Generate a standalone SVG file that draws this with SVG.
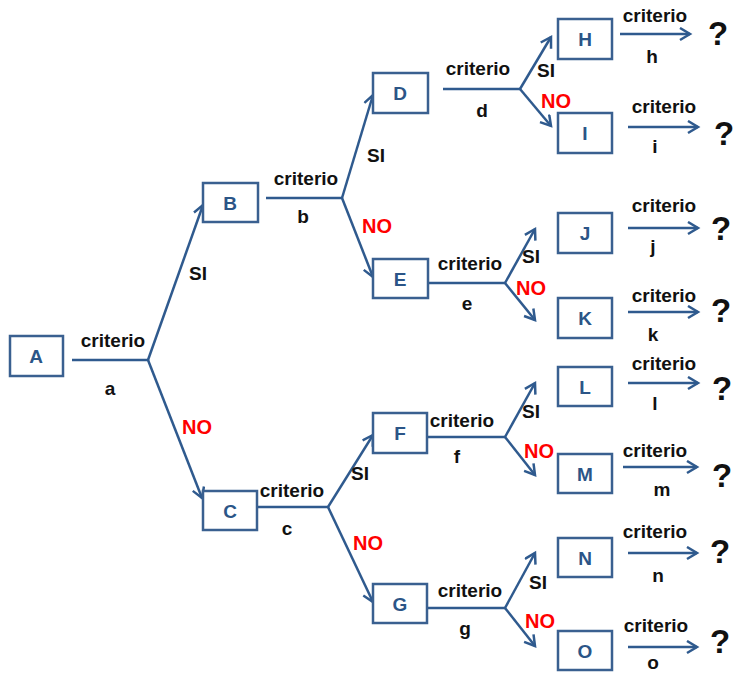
<svg xmlns="http://www.w3.org/2000/svg" width="733" height="674" viewBox="0 0 733 674">
  <style>
    .box rect { fill: #ffffff; stroke: #3A6090; stroke-width: 2.5; }
    .box text { font-family: "Liberation Sans", Arial, sans-serif; font-weight: bold; font-size: 19px; fill: #2B5587; text-anchor: middle; }
    .edge { fill: none; stroke: #2F5A8E; stroke-width: 2.5; }
    .arr { marker-end: url(#head); }
    .lbl { font-family: "Liberation Sans", Arial, sans-serif; font-weight: bold; font-size: 19px; fill: #111111; text-anchor: middle; }
    .no { fill: #FF0000; font-size: 20px; }
    .q { font-size: 33px; }
  </style>
  <defs>
    <marker id="head" markerUnits="userSpaceOnUse" markerWidth="14" markerHeight="16" refX="11" refY="7" orient="auto">
      <path d="M1,1 L11,7 L1,13" fill="none" stroke="#2F5A8E" stroke-width="2.5" stroke-linejoin="miter"/>
    </marker>
  </defs>
  <rect width="733" height="674" fill="#ffffff"/>

  <!-- connectors -->
  <g id="connectors">
    <path class="edge" d="M72,360 H148"/>
    <path class="edge arr" d="M148,360 L203,205"/>
    <path class="edge arr" d="M148,360 L202,498"/>

    <path class="edge" d="M266,198 H342"/>
    <path class="edge arr" d="M342,198 L373,95"/>
    <path class="edge arr" d="M342,198 L373,277"/>

    <path class="edge" d="M257,507 H328"/>
    <path class="edge arr" d="M328,507 L373,435"/>
    <path class="edge arr" d="M328,507 L373,602"/>

    <path class="edge" d="M443,89 H520"/>
    <path class="edge arr" d="M520,89 L551,37"/>
    <path class="edge arr" d="M520,89 L551,126"/>

    <path class="edge" d="M428,283 H505"/>
    <path class="edge arr" d="M505,283 L535,229"/>
    <path class="edge arr" d="M505,283 L535,320"/>

    <path class="edge" d="M427,437 H505"/>
    <path class="edge arr" d="M505,437 L535,383"/>
    <path class="edge arr" d="M505,437 L535,475"/>

    <path class="edge" d="M427,608 H505"/>
    <path class="edge arr" d="M505,608 L535,553"/>
    <path class="edge arr" d="M505,608 L535,646"/>

    <path class="edge arr" d="M620,34 H690"/>
    <path class="edge arr" d="M628,127 H698"/>
    <path class="edge arr" d="M628,228 H698"/>
    <path class="edge arr" d="M628,312 H698"/>
    <path class="edge arr" d="M628,383 H698"/>
    <path class="edge arr" d="M623,467 H697"/>
    <path class="edge arr" d="M628,553 H697"/>
    <path class="edge arr" d="M628,647 H697"/>
  </g>

  <!-- nodes -->
  <g id="node-A" class="box"><rect x="10" y="336" width="53" height="40"/><text x="36" y="363">A</text></g>
  <g id="node-B" class="box"><rect x="203" y="183" width="55" height="39"/><text x="230" y="210">B</text></g>
  <g id="node-C" class="box"><rect x="203" y="491" width="54" height="39"/><text x="230" y="518">C</text></g>
  <g id="node-D" class="box"><rect x="373" y="73" width="55" height="40"/><text x="400" y="100">D</text></g>
  <g id="node-E" class="box"><rect x="373" y="259" width="55" height="39"/><text x="400" y="286">E</text></g>
  <g id="node-F" class="box"><rect x="373" y="413" width="54" height="40"/><text x="400" y="440">F</text></g>
  <g id="node-G" class="box"><rect x="373" y="584" width="54" height="39"/><text x="400" y="611">G</text></g>
  <g id="node-H" class="box"><rect x="558" y="19" width="54" height="40"/><text x="585" y="46">H</text></g>
  <g id="node-I" class="box"><rect x="558" y="113" width="54" height="40"/><text x="585" y="140">I</text></g>
  <g id="node-J" class="box"><rect x="558" y="213" width="54" height="40"/><text x="585" y="240">J</text></g>
  <g id="node-K" class="box"><rect x="558" y="298" width="54" height="40"/><text x="585" y="325">K</text></g>
  <g id="node-L" class="box"><rect x="558" y="367" width="54" height="39"/><text x="585" y="394">L</text></g>
  <g id="node-M" class="box"><rect x="558" y="454" width="54" height="39"/><text x="585" y="481">M</text></g>
  <g id="node-N" class="box"><rect x="558" y="538" width="54" height="39"/><text x="585" y="565">N</text></g>
  <g id="node-O" class="box"><rect x="558" y="631" width="54" height="39"/><text x="585" y="658">O</text></g>

  <!-- labels -->
  <g id="labels">
    <text class="lbl" x="113" y="347">criterio</text>
    <text class="lbl" x="110" y="395">a</text>
    <text class="lbl" x="198" y="280">SI</text>
    <text class="lbl no" x="197" y="434">NO</text>

    <text class="lbl" x="306" y="185">criterio</text>
    <text class="lbl" x="303" y="223">b</text>
    <text class="lbl" x="376" y="162">SI</text>
    <text class="lbl no" x="377" y="233">NO</text>

    <text class="lbl" x="292" y="497">criterio</text>
    <text class="lbl" x="287" y="535">c</text>
    <text class="lbl" x="360" y="480">SI</text>
    <text class="lbl no" x="368" y="550">NO</text>

    <text class="lbl" x="478" y="75">criterio</text>
    <text class="lbl" x="482" y="117">d</text>
    <text class="lbl" x="546" y="77">SI</text>
    <text class="lbl no" x="556" y="108">NO</text>

    <text class="lbl" x="470" y="270">criterio</text>
    <text class="lbl" x="467" y="310">e</text>
    <text class="lbl" x="531" y="263">SI</text>
    <text class="lbl no" x="531" y="295">NO</text>

    <text class="lbl" x="462" y="427">criterio</text>
    <text class="lbl" x="457" y="463">f</text>
    <text class="lbl" x="531" y="418">SI</text>
    <text class="lbl no" x="539" y="458">NO</text>

    <text class="lbl" x="470" y="597">criterio</text>
    <text class="lbl" x="465" y="635">g</text>
    <text class="lbl" x="538" y="589">SI</text>
    <text class="lbl no" x="540" y="628">NO</text>

    <text class="lbl" x="655" y="22">criterio</text>
    <text class="lbl" x="652" y="63">h</text>
    <text class="lbl q" x="718" y="45">?</text>

    <text class="lbl" x="664" y="113">criterio</text>
    <text class="lbl" x="655" y="153">i</text>
    <text class="lbl q" x="724" y="145">?</text>

    <text class="lbl" x="664" y="212">criterio</text>
    <text class="lbl" x="653" y="253">j</text>
    <text class="lbl q" x="721" y="240">?</text>

    <text class="lbl" x="664" y="302">criterio</text>
    <text class="lbl" x="653" y="341">k</text>
    <text class="lbl q" x="721" y="322">?</text>

    <text class="lbl" x="664" y="370">criterio</text>
    <text class="lbl" x="655" y="410">l</text>
    <text class="lbl q" x="722" y="400">?</text>

    <text class="lbl" x="655" y="457">criterio</text>
    <text class="lbl" x="662" y="496">m</text>
    <text class="lbl q" x="722" y="487">?</text>

    <text class="lbl" x="655" y="538">criterio</text>
    <text class="lbl" x="658" y="582">n</text>
    <text class="lbl q" x="720" y="563">?</text>

    <text class="lbl" x="656" y="632">criterio</text>
    <text class="lbl" x="653" y="669">o</text>
    <text class="lbl q" x="720" y="653">?</text>
  </g>
</svg>
